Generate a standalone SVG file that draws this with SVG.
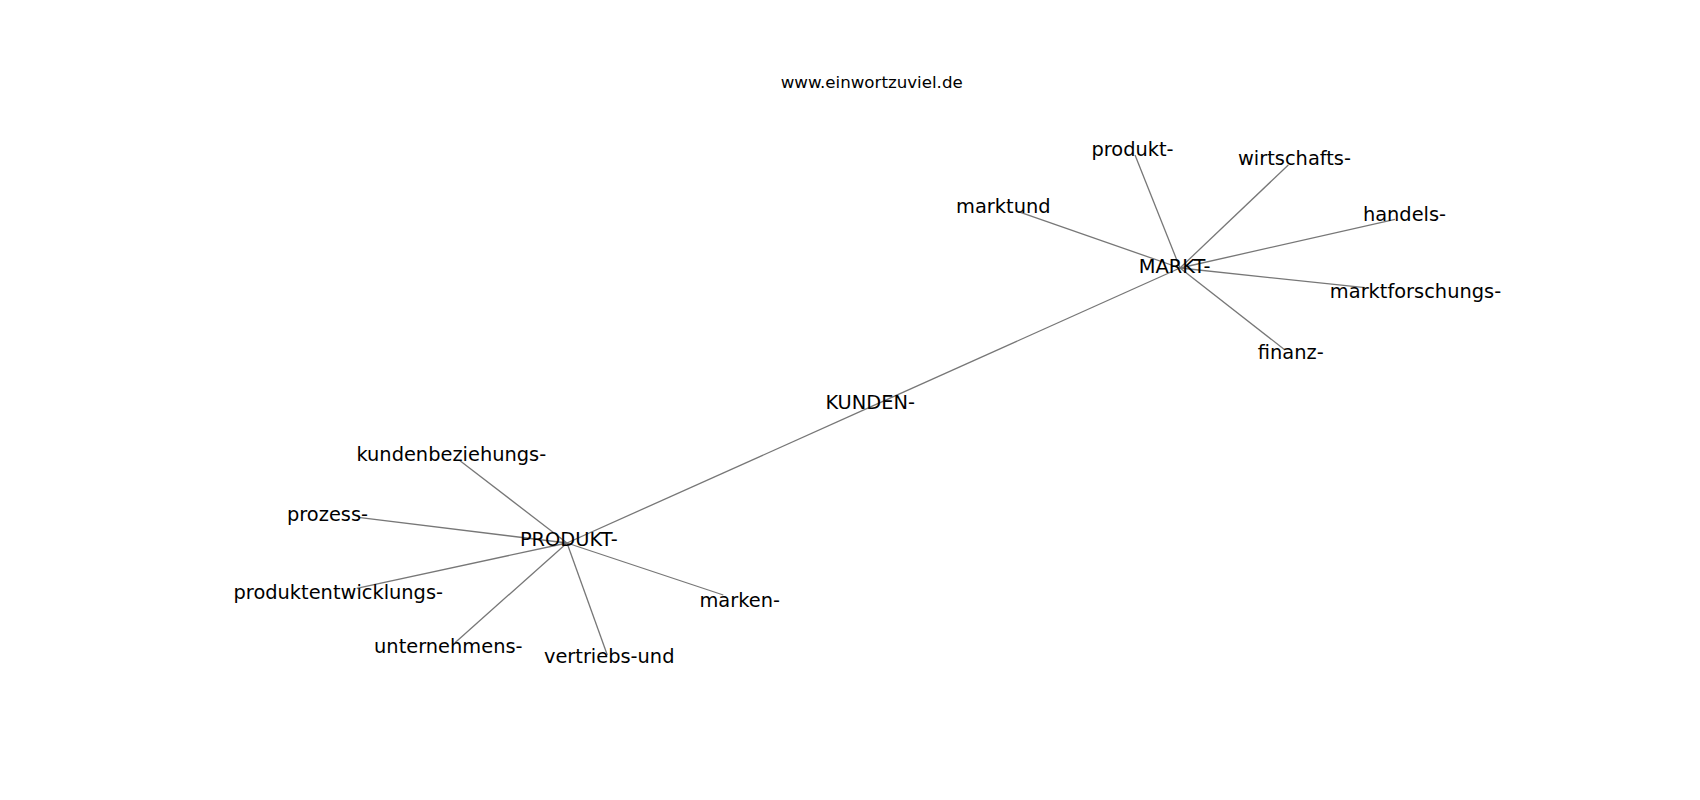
<svg xmlns="http://www.w3.org/2000/svg" width="1700" height="800" viewBox="0 0 1700 800">
<style>
.e{stroke:#777;stroke-width:1.3;fill:none}
.l{font-family:"DejaVu Sans",Verdana,sans-serif;font-size:19.4px;fill:#000;text-anchor:middle}
.t{font-family:"DejaVu Sans",Verdana,sans-serif;font-size:16.67px;fill:#000;text-anchor:middle}
</style>
<rect width="1700" height="800" fill="#fff"/>
<text class="t" x="871.7" y="87.7">www.einwortzuviel.de</text>
<g id="edges">
<line class="e" x1="1180" y1="268" x2="1135" y2="155"/>
<line class="e" x1="1180" y1="268" x2="1288.3" y2="165"/>
<line class="e" x1="1180" y1="268" x2="1018.3" y2="211.7"/>
<line class="e" x1="1180" y1="268" x2="1395" y2="219.3"/>
<line class="e" x1="1180" y1="268" x2="1365" y2="287.7"/>
<line class="e" x1="1180" y1="268" x2="1285" y2="350"/>
<line class="e" x1="1180" y1="268" x2="870" y2="407.2"/>
<line class="e" x1="567" y1="543" x2="870" y2="407.2"/>
<line class="e" x1="567" y1="543" x2="460" y2="460.7"/>
<line class="e" x1="567" y1="543" x2="358.3" y2="517.3"/>
<line class="e" x1="567" y1="543" x2="356.7" y2="588.3"/>
<line class="e" x1="567" y1="543" x2="455" y2="642.7"/>
<line class="e" x1="567" y1="543" x2="607.3" y2="655"/>
<line class="e" x1="567" y1="543" x2="723.3" y2="595"/>
</g>
<g id="n-markt"><text class="l" x="1174.7" y="273.3">MARKT-</text></g>
<g id="n-produkt"><text class="l" x="1132.5" y="156">produkt-</text></g>
<g id="n-wirtschafts"><text class="l" x="1294.5" y="165">wirtschafts-</text></g>
<g id="n-marktund"><text class="l" x="1003.3" y="212.7">marktund</text></g>
<g id="n-handels"><text class="l" x="1404.5" y="220.7">handels-</text></g>
<g id="n-marktforschungs"><text class="l" x="1415.5" y="298.3">marktforschungs-</text></g>
<g id="n-finanz"><text class="l" x="1290.8" y="359">finanz-</text></g>
<g id="n-kunden"><text class="l" x="870.2" y="409">KUNDEN-</text></g>
<g id="n-PRODUKT"><text class="l" x="568.8" y="546">PRODUKT-</text></g>
<g id="n-kundenbeziehungs"><text class="l" x="451.3" y="460.7">kundenbeziehungs-</text></g>
<g id="n-prozess"><text class="l" x="327.5" y="520.7">prozess-</text></g>
<g id="n-produktentwicklungs"><text class="l" x="338.3" y="599.3">produktentwicklungs-</text></g>
<g id="n-unternehmens"><text class="l" x="448.3" y="653.3">unternehmens-</text></g>
<g id="n-vertriebs"><text class="l" x="609.2" y="662.7">vertriebs-und</text></g>
<g id="n-marken"><text class="l" x="739.7" y="606.7">marken-</text></g>
</svg>
